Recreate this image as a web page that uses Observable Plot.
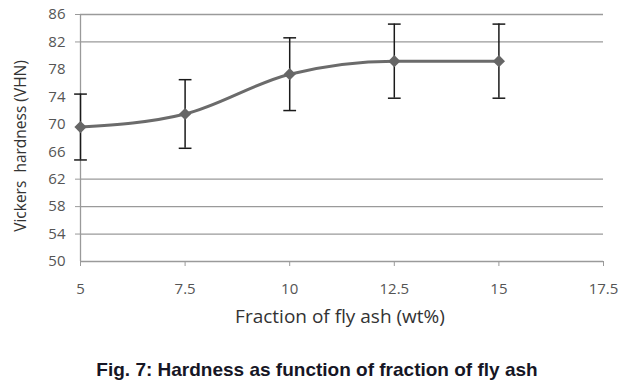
<!DOCTYPE html>
<html>
<head>
<meta charset="utf-8">
<script src="https://cdn.jsdelivr.net/npm/d3@7"></script>
<script src="https://cdn.jsdelivr.net/npm/@observablehq/plot@0.6"></script>
<style>
  html, body { margin: 0; padding: 0; background: #fff; }
  #caption { width: 630px; text-align: center; font: bold 19px "Liberation Sans", Arial, sans-serif; color: #161625; margin-top: 19px; padding-left: 2px; }
</style>
</head>
<body>
<div id="chart"></div>
<div id="caption">Fig. 7: Hardness as function of fraction of fly ash</div>
<script>
const flyAsh = [5, 7.5, 10, 12.5, 15];
const hardness = [69.6, 71.5, 77.3, 79.2, 79.2];
const errLow = [64.8, 66.5, 72.0, 73.8, 73.8];
const errHigh = [74.4, 76.5, 82.6, 84.6, 84.6];
const xTicks = [5, 7.5, 10, 12.5, 15, 17.5];
const yTicks = [50, 54, 58, 62, 66, 70, 74, 78, 82, 86];
const gridValues = [54, 58, 62, 82, 86];

const data = flyAsh.map((x, i) => ({x, y: hardness[i], lo: errLow[i], hi: errHigh[i]}));

const cap = {
  draw(context, size) {
    const w = Math.sqrt(size) * 0.6;
    context.moveTo(-w, 0);
    context.lineTo(w, 0);
  }
};

const font = "'Open Sans', 'DejaVu Sans', sans-serif";

const plot = Plot.plot({
  width: 630,
  height: 340,
  marginLeft: 80,
  marginRight: 27,
  marginTop: 14,
  marginBottom: 79,
  style: {fontFamily: font, background: "#fff"},
  x: {domain: [5, 17.5]},
  y: {domain: [50, 86]},
  marks: [
    Plot.ruleY(gridValues, {stroke: "#9a9a9a", strokeWidth: 1.3}),
    Plot.axisY(gridValues, {tickSize: 5, stroke: "#9a9a9a", label: null, text: () => ""}),
    Plot.axisY(yTicks, {tickSize: 0, tickPadding: 15, fontSize: 15, fill: "#555", label: null}),
    Plot.axisX(xTicks, {tickSize: 5, stroke: "#9a9a9a", tickPadding: 17, fontSize: 15, fill: "#555", label: null, tickFormat: d => String(d)}),
    Plot.ruleX([5], {stroke: "#9a9a9a", strokeWidth: 1.3}),
    Plot.ruleY([50], {stroke: "#9a9a9a", strokeWidth: 1.3}),
    Plot.line(data, {x: "x", y: "y", stroke: "#6b6b6b", strokeWidth: 3, curve: "monotone-x"}),
    Plot.ruleX(data, {x: "x", y1: "lo", y2: "hi", stroke: "#1a1a1a", strokeWidth: 1.5}),
    Plot.dot(data, {x: "x", y: "lo", symbol: cap, r: 6, stroke: "#1a1a1a", strokeWidth: 1.5}),
    Plot.dot(data, {x: "x", y: "hi", symbol: cap, r: 6, stroke: "#1a1a1a", strokeWidth: 1.5}),
    Plot.dot(data, {x: "x", y: "y", symbol: "diamond2", r: 5.5, fill: "#666", stroke: "none"}),
    Plot.text(["Fraction of fly ash (wt%)"], {frameAnchor: "bottom", dy: 61, dx: -2, fontSize: 19, fill: "#333", text: d => d}),
    Plot.text(["Vickers  hardness (VHN)"], {frameAnchor: "left", textAnchor: "middle", dx: -59, dy: 8, rotate: -90, fontSize: 15.5, fill: "#333", text: d => d})
  ]
});
document.getElementById("chart").append(plot);
</script>
</body>
</html>
